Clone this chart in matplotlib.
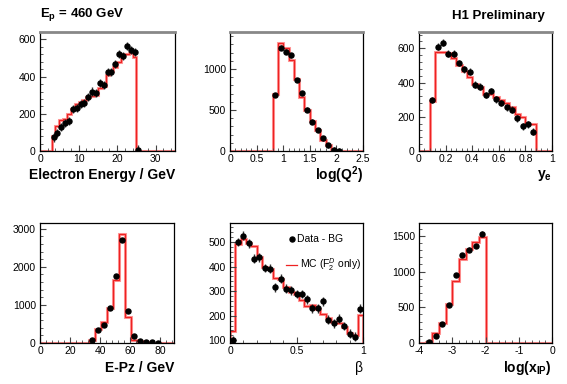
import numpy as np
import matplotlib
matplotlib.use("Agg")
import matplotlib.pyplot as plt
from matplotlib.ticker import AutoMinorLocator, FuncFormatter

plt.rcParams['font.family'] = ['Liberation Sans', 'DejaVu Sans']
plt.rcParams['mathtext.fontset'] = 'custom'
plt.rcParams['mathtext.rm'] = 'Liberation Sans'
plt.rcParams['mathtext.bf'] = 'Liberation Sans:bold'
plt.rcParams['mathtext.it'] = 'Liberation Sans:italic'

# --- electron energy
ee_edges = np.arange(3, 26, 1.0)
ee_mc = [83, 134, 165, 173, 200, 225, 253, 262, 275, 292, 296, 300,
         338, 350, 410, 430, 452, 480, 522, 524, 525, 505]
ee_x = np.arange(3.5, 26, 1.0)
ee_data = [73, 96, 129, 151, 163, 224, 233, 252, 257, 290, 320, 313,
           365, 357, 424, 424, 466, 523, 511, 565, 541, 532, 8]
ee_err = 22

# --- log(Q2)
q2_edges = np.round(np.arange(0.8, 2.01, 0.1), 2)
q2_mc = [690, 1310, 1260, 1110, 880, 660, 500, 360, 250, 140, 75, 10]
q2_x = np.round(np.arange(0.85, 2.1, 0.1), 2)
q2_data = [681, 1258, 1210, 1165, 863, 706, 504, 359, 254, 153, 69, 16, 4]
q2_err = 28

# --- y_e
ye_edges = np.round(np.arange(0.08, 0.8801, 0.04), 2)
ye_mc = [290, 578, 578, 570, 545, 500, 470, 430, 390, 375, 335, 330,
         315, 300, 280, 255, 215, 200, 158, 158]
ye_x = np.round(np.arange(0.10, 0.87, 0.04), 2)
ye_data = [298, 609, 632, 569, 569, 514, 478, 464, 387, 375, 327, 350,
           302, 280, 255, 240, 190, 145, 155, 112]
ye_err = 20

# --- E-Pz
ep_edges = np.arange(32.5, 80.6, 4.0)
ep_mc = [70, 370, 560, 920, 1660, 2870, 690, 90, 40, 20, 10, 5]
ep_x = np.arange(34.5, 79, 4.0)
ep_data = [70, 333, 482, 912, 1754, 2702, 851, 175, 53, 30, 15, 10]
ep_err = 40

# --- beta
be_edges = np.round(np.arange(0.0, 1.001, 0.04), 2)
be_mc = [138, 490, 512, 495, 482, 440, 400, 390, 355, 350, 318, 298, 290,
         262, 240, 243, 228, 205, 192, 175, 170, 155, 130, 122, 202]
be_x = np.round(np.arange(0.02, 1.0, 0.04), 2)
be_data = [100, 500, 525, 494, 432, 437, 394, 391, 315, 351, 310, 303, 288,
           288, 267, 231, 231, 258, 184, 170, 188, 158, 127, 115, 229]
be_err = 18

# --- log(x_IP)
xp_edges = np.round(np.arange(-3.8, -1.99, 0.2), 2)
xp_mc = [20, 140, 280, 550, 870, 1180, 1310, 1420, 1490]
xp_x = np.round(np.arange(-3.7, -2.0, 0.2), 2)
xp_data = [19, 98, 262, 528, 949, 1234, 1308, 1360, 1533]
xp_err = 30

fig = plt.figure(figsize=(5.67, 3.84), dpi=100)

W, H = 567.0, 384.0
def make_ax(l, r, t, b):
    return fig.add_axes([l / W, 1 - b / H, (r - l) / W, (b - t) / H])

ax1 = make_ax(40, 175, 32, 151)
ax2 = make_ax(230, 363, 32, 151)
ax3 = make_ax(419, 552, 32, 151)
ax4 = make_ax(40, 174, 223, 343)
ax5 = make_ax(230, 363, 223, 343)
ax6 = make_ax(419, 552, 223, 343)

fmt = FuncFormatter(lambda v, p: '%g' % v)


def panel(ax, edges, mc, x, data, err, xlim, ylim, xticks, yticks, bw):
    edges = np.asarray(edges, float)
    mc = np.asarray(mc, float)
    # pad the histogram with empty bins out to the axis range
    full_edges = np.concatenate([[xlim[0]], edges, [xlim[1]]])
    full_mc = np.concatenate([[ylim[0]], mc, [ylim[0]]])
    vals = np.maximum(full_mc, ylim[0])
    ax.stairs(vals, full_edges, baseline=ylim[0], color='#ff9a9a', lw=2.2)
    ax.stairs(vals, full_edges, baseline=ylim[0], color='#ee2222', lw=0.9)
    ax.errorbar(x, data, yerr=err, xerr=0.25 * bw, fmt='o', ms=3.6,
                color='black', ecolor='#303030', elinewidth=1.0, capsize=0,
                zorder=5)
    ax.set_xlim(*xlim)
    ax.set_ylim(*ylim)
    ax.set_xticks(xticks)
    ax.set_yticks(yticks)
    ax.xaxis.set_major_formatter(fmt)
    ax.xaxis.set_minor_locator(AutoMinorLocator(5))
    ax.yaxis.set_minor_locator(AutoMinorLocator(5))
    ax.tick_params(which='both', direction='in', top=False, right=False,
                   labelsize=7.5, color='#444444')
    ax.tick_params(axis='x', pad=2)
    ax.tick_params(axis='y', pad=3)
    ax.tick_params(which='major', length=4, width=0.8)
    ax.tick_params(which='minor', length=2, width=0.6)
    for s in ax.spines.values():
        s.set_linewidth(0.9)


panel(ax1, ee_edges, ee_mc, ee_x, ee_data, ee_err, (0, 35), (0, 640),
      [0, 10, 20, 30], [0, 200, 400, 600], 1.0)
panel(ax2, q2_edges, q2_mc, q2_x, q2_data, q2_err, (0, 2.5), (0, 1450),
      [0, 0.5, 1, 1.5, 2, 2.5], [0, 500, 1000], 0.1)
panel(ax3, ye_edges, ye_mc, ye_x, ye_data, ye_err, (0, 1), (0, 695),
      [0, 0.2, 0.4, 0.6, 0.8, 1], [0, 200, 400, 600], 0.04)
panel(ax4, ep_edges, ep_mc, ep_x, ep_data, ep_err, (0, 89), (0, 3150),
      [0, 20, 40, 60, 80], [0, 1000, 2000, 3000], 4.0)
panel(ax5, be_edges, be_mc, be_x, be_data, be_err, (0, 1), (89, 577),
      [0, 0.5, 1], [100, 200, 300, 400, 500], 0.04)
panel(ax6, xp_edges, xp_mc, xp_x, xp_data, xp_err, (-4, 0), (0, 1680),
      [-4, -3, -2, -1, 0], [0, 500, 1000, 1500], 0.2)

for ax in (ax1, ax2, ax3):
    ax.spines['top'].set_color('#888888')
    ax.spines['top'].set_linewidth(2.0)

lab = dict(ha='right', va='center', fontsize=10, fontweight='bold')
ax1.text(1.0, -0.205, 'Electron Energy / GeV', transform=ax1.transAxes, **lab)
ax2.text(1.0, -0.205, r'$\mathbf{log(Q^2)}$', transform=ax2.transAxes, **lab)
ax3.text(1.0, -0.205, r'$\mathbf{y_e}$', transform=ax3.transAxes, **lab)
ax4.text(1.0, -0.21, 'E-Pz / GeV', transform=ax4.transAxes, **lab)
ax5.text(1.0, -0.21, 'β', transform=ax5.transAxes, ha='right', va='center',
         fontsize=10)
ax6.text(1.0, -0.21, r'$\mathbf{log(x_{IP})}$', transform=ax6.transAxes, **lab)

ax1.text(0.0, 1.145, r'$\mathbf{E_p}$ = 460 GeV', transform=ax1.transAxes,
         ha='left', va='center', fontsize=9.5, fontweight='bold')
ax3.text(0.95, 1.135, 'H1 Preliminary', transform=ax3.transAxes,
         ha='right', va='center', fontsize=9.5, fontweight='bold')

# legend in the beta panel
ax5.plot([0.466], [0.867], 'o', ms=3.6, color='black', transform=ax5.transAxes)
ax5.text(0.505, 0.867, 'Data - BG', transform=ax5.transAxes, ha='left',
         va='center', fontsize=7.5)
ax5.plot([0.42, 0.50], [0.65, 0.65], color='#ee2222', lw=0.9,
         transform=ax5.transAxes)
ax5.text(0.53, 0.65, r'MC (F$_2^D$ only)', transform=ax5.transAxes,
         ha='left', va='center', fontsize=7.5)

fig.savefig('out.png', dpi=100)
